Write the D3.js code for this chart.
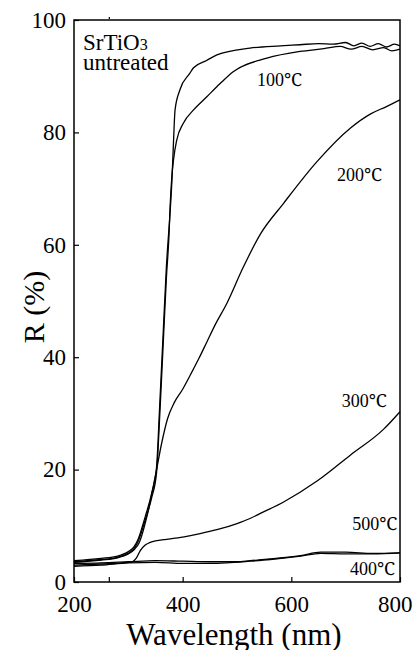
<!DOCTYPE html>
<html>
<head>
<meta charset="utf-8">
<script src="https://cdn.jsdelivr.net/npm/d3@7"></script>
<style>
  body { margin: 0; background: #fff; }
</style>
</head>
<body>
<div class="grafico"></div>
<script>
// reflectance spectra, [wavelength nm, R %]
var untreated = [[200, 3.8], [250, 4.2], [280, 4.6], [300, 5.4], [310, 6.2], [318, 7.6], [331, 11.6],
  [343, 15.8], [352, 20.5], [358, 32], [364, 44], [370, 56], [377, 66], [380, 71], [383, 78], [386, 84],
  [395, 87.6], [413, 90.5], [420, 91.5], [444, 92.8], [463, 93.8], [524, 95], [580, 95.4], [616, 95.6],
  [650, 95.8], [677, 95.7], [700, 96.0], [715, 95.4], [730, 95.9], [745, 95.3], [760, 95.8], [775, 95.2],
  [790, 95.7], [800, 95.4]];
var t100 = [[200, 3.6], [250, 4.0], [280, 4.4], [300, 5.1], [310, 5.9], [318, 7.2], [331, 11.0],
  [343, 15.0], [352, 19.5], [358, 30], [364, 42], [370, 54], [375, 62], [377, 67], [380, 72], [383, 75],
  [389, 78.6], [401, 81.6], [420, 84], [444, 86.3], [469, 88.7], [493, 90.8], [555, 93.2], [616, 94.4],
  [660, 94.9], [690, 95.3], [710, 94.8], [730, 95.3], [750, 94.7], [770, 95.1], [785, 94.5], [800, 94.8]];
var t200 = [[200, 3.5], [250, 3.9], [280, 4.3], [300, 5.0], [310, 5.7], [320, 7.0], [335, 12], [350, 19],
  [362, 25], [372, 29], [385, 32], [400, 34.3], [415, 37], [430, 39.8], [445, 42.8], [460, 45.8],
  [481, 49.5], [511, 55.9], [543, 61.9], [585, 67.3], [648, 74.9], [709, 80.8], [746, 83.3], [775, 84.6],
  [800, 85.8]];
var t300 = [[200, 3.0], [250, 3.2], [290, 3.4], [307, 3.6], [315, 4.3], [322, 5.6], [330, 6.5], [339, 7.0],
  [355, 7.4], [370, 7.6], [400, 8.0], [432, 8.6], [463, 9.3], [500, 10.4], [524, 11.3], [543, 12.2],
  [585, 14.2], [648, 18], [709, 22.6], [770, 27.2], [800, 30.3]];
var t400 = [[200, 2.8], [250, 3.0], [300, 3.4], [350, 3.5], [400, 3.3], [450, 3.3], [481, 3.4], [524, 3.7],
  [561, 4.0], [617, 4.6], [654, 5.1], [700, 5.0], [750, 5.0], [800, 5.2]];
var t500 = [[200, 3.3], [250, 3.4], [300, 3.6], [350, 3.8], [400, 3.7], [450, 3.6], [500, 3.6], [524, 3.8],
  [561, 4.1], [617, 4.7], [654, 5.3], [700, 5.3], [750, 5.1], [800, 5.2]];

var xTicks = [200, 400, 600, 800];
var yTicks = [0, 20, 40, 60, 80, 100];

var serif = "'Liberation Serif', 'Noto Serif', 'DejaVu Serif', serif";

var margin = { top: 20, right: 13, bottom: 68, left: 74 };
var width = 413 - margin.left - margin.right,
  height = 650 - margin.top - margin.bottom;

var svg = d3.select(".grafico").append("svg")
  .attr("width", 413)
  .attr("height", 650)
  .style("font-family", serif);

var g = svg.append("g")
  .attr("transform", "translate(" + margin.left + "," + margin.top + ")");

var x = d3.scaleLinear().domain([200, 800]).range([0, width]);
var y = d3.scaleLinear().domain([0, 100]).range([height, 0]);

// frame
g.append("rect")
  .attr("width", width)
  .attr("height", height)
  .attr("fill", "none")
  .attr("stroke", "#000")
  .attr("stroke-width", 1.5);

// y axis: labels outside, ticks inside
var yAxis = g.append("g")
  .call(d3.axisLeft(y).tickValues(yTicks).tickSizeInner(-5).tickSizeOuter(0).tickPadding(8))
  .attr("font-family", null);
yAxis.select(".domain").remove();
yAxis.selectAll("line").attr("stroke-width", 1.2);
yAxis.selectAll("text").style("font-size", "23px").style("font-family", serif).attr("fill", "#000");

var xAxis = g.append("g")
  .attr("transform", "translate(0," + height + ")")
  .call(d3.axisBottom(x).tickValues(xTicks).tickSizeInner(-5).tickSizeOuter(0).tickPadding(14))
  .attr("font-family", null);
xAxis.select(".domain").remove();
xAxis.selectAll("line").attr("stroke-width", 1.2);
xAxis.selectAll("text").style("font-size", "23px").style("font-family", serif).attr("fill", "#000")
  .filter(d => d === 800)
  .attr("text-anchor", "end")
  .attr("dx", "12px");

// odd little tick near 265 nm, top and bottom
g.append("line").attr("x1", x(265)).attr("x2", x(265)).attr("y1", height).attr("y2", height - 5)
  .attr("stroke", "#000").attr("stroke-width", 1.2);
g.append("line").attr("x1", x(265)).attr("x2", x(265)).attr("y1", -1).attr("y2", -3)
  .attr("stroke", "#000").attr("stroke-width", 1.2);

// axis titles
svg.append("text")
  .attr("x", 234)
  .attr("y", 645)
  .attr("text-anchor", "middle")
  .style("font-size", "31px")
  .style("font-family", serif)
  .text("Wavelength (nm)");

svg.append("text")
  .attr("transform", "translate(44,307) rotate(-90)")
  .attr("text-anchor", "middle")
  .style("font-size", "30px")
  .style("font-family", serif)
  .text("R (%)");

// curves
var line = d3.line()
  .x(d => x(d[0]))
  .y(d => y(d[1]))
  .curve(d3.curveMonotoneX);

[t500, t400, t300, t200, t100, untreated].forEach(function (s) {
  g.append("path")
    .datum(s)
    .attr("d", line)
    .attr("fill", "none")
    .attr("stroke", "#000")
    .attr("stroke-width", 1.3);
});

// in-plot labels
var title = g.append("text")
  .attr("x", 9)
  .attr("y", 30)
  .style("font-size", "23px")
  .style("font-family", serif);
title.append("tspan").text("SrTiO");
title.append("tspan").style("font-size", "16px").text("3");

g.append("text")
  .attr("x", 9)
  .attr("y", 50)
  .style("font-size", "23px")
  .style("font-family", serif)
  .text("untreated");

var labels = [["100℃", 537, 88.3], ["200℃", 684, 71.4], ["300℃", 693, 31.1],
  ["500℃", 712, 9.2], ["400℃", 708, 1.2]];
labels.forEach(function (l) {
  g.append("text")
    .attr("x", x(l[1]))
    .attr("y", y(l[2]))
    .style("font-size", "18px")
    .style("font-family", serif)
    .text(l[0]);
});
</script>
</body>
</html>
